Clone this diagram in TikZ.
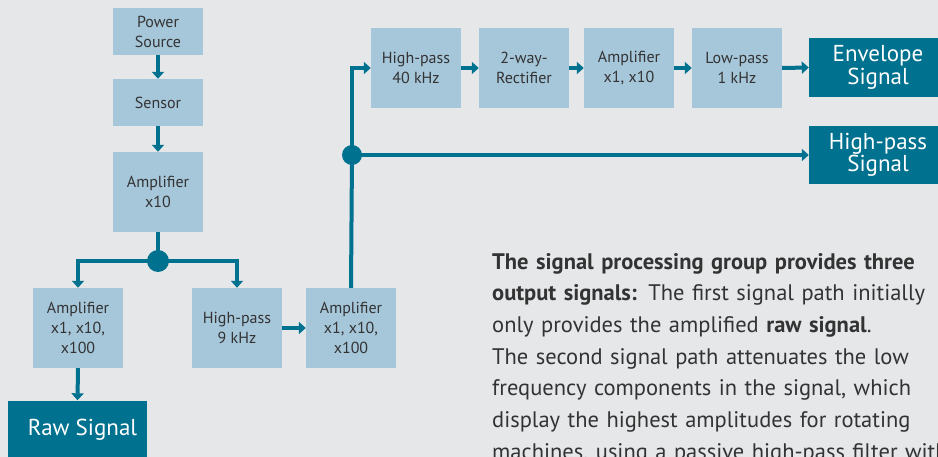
\documentclass[tikz,border=0pt]{standalone}
\usepackage{fontspec}
\setmainfont{PT Sans}
\usetikzlibrary{arrows.meta, positioning, calc}
\definecolor{panelgray}{HTML}{E5E7E9}
\definecolor{boxblue}{HTML}{A6C6DA}
\definecolor{sigteal}{HTML}{00718F}
\definecolor{textgray}{HTML}{333333}
\pgfdeclarelayer{background}
\pgfsetlayers{background,main}

\begin{document}
\begin{tikzpicture}[x=1pt, y=-1pt,
    block/.style={fill=boxblue, minimum width=90pt, minimum height=80pt,
      inner sep=2pt, align=center, text=textgray,
      font=\fontsize{16}{20}\selectfont},
    smallblock/.style={block, minimum height=47pt},
    outsig/.style={fill=sigteal, text=white, minimum width=138pt,
      minimum height=59pt, align=center,
      font=\fontsize{23}{22.5}\selectfont},
    junction/.style={circle, fill=sigteal, inner sep=0pt, minimum size=22pt},
    arrow/.style={-{Triangle[width=12pt, length=7pt]},
      line width=4pt, draw=sigteal},
    wire/.style={line width=4pt, draw=sigteal},
]
\useasboundingbox (0,0) rectangle (938,457);

\node[smallblock] (power) at (158, 31.5) {Power\\Source};
\node[smallblock] (sensor) at (158, 102.5) {Sensor};
\node[block] (ampten) at (158, 192) {Amplifier\\x10};
\node[junction] (split) at (158, 261) {};
\node[block] (ampraw) at (78, 328) {Amplifier\\x1, x10,\\x100};
\node[block] (hpnine) at (237, 328) {High-pass\\9 kHz};
\node[block] (amphp) at (351, 328) {Amplifier\\x1, x10,\\x100};
\node[outsig, minimum width=139pt] (raw) at (77.5, 430) {\hspace*{10pt}Raw Signal};
\node[junction, minimum size=20pt] (fork) at (352, 155) {};
\node[block] (hpforty) at (416, 68) {High-pass\\40 kHz};
\node[block] (rectifier) at (524, 68) {2-way-\\Rectifier};
\node[block] (ampenv) at (629, 68) {Amplifier\\x1, x10};
\node[block] (lowpass) at (737, 68) {Low-pass\\1 kHz};
\node[outsig] (envelope) at (878, 67.5) {Envelope\\Signal};
\node[outsig, minimum height=58pt] (hpsignal) at (878, 155) {High-pass\\Signal};

\node[anchor=north west, inner sep=0pt, text width=500pt, align=left,
    text=textgray, font=\fontsize{22.5}{31.7}\selectfont] (caption) at (492, 253)
    {\textbf{The signal processing group provides three}\\
     \textbf{output signals:} The first signal path initially\\
     only provides the amplified \textbf{raw signal}.\\
     The second signal path attenuates the low\\
     frequency components in the signal, which\\
     display the highest amplitudes for rotating\\
     machines, using a passive high-pass filter with};

\begin{pgfonlayer}{background}
\fill[panelgray] (0,0) rectangle (938,457);
\draw[arrow] (power.south) -- (sensor.north);
\draw[arrow] (sensor.south) -- (ampten.north);
\draw[wire] (ampten.south) -- (split.center);
\draw[arrow] (split.center) -| (ampraw.north);
\draw[arrow] (split.center) -| (hpnine.north);
\draw[arrow] (ampraw.south) -- (raw.north);
\draw[arrow] (hpnine.east) -- (amphp.west);
\draw[wire] (amphp.north) -- (fork.center);
\draw[arrow] (fork.center) |- (hpforty.west);
\draw[arrow] (fork.center) -- (hpsignal.west);
\draw[arrow] (hpforty.east) -- (rectifier.west);
\draw[arrow] (rectifier.east) -- (ampenv.west);
\draw[arrow] (ampenv.east) -- (lowpass.west);
\draw[arrow] (lowpass.east) -- (envelope.west);
\end{pgfonlayer}
\end{tikzpicture}
\end{document}
